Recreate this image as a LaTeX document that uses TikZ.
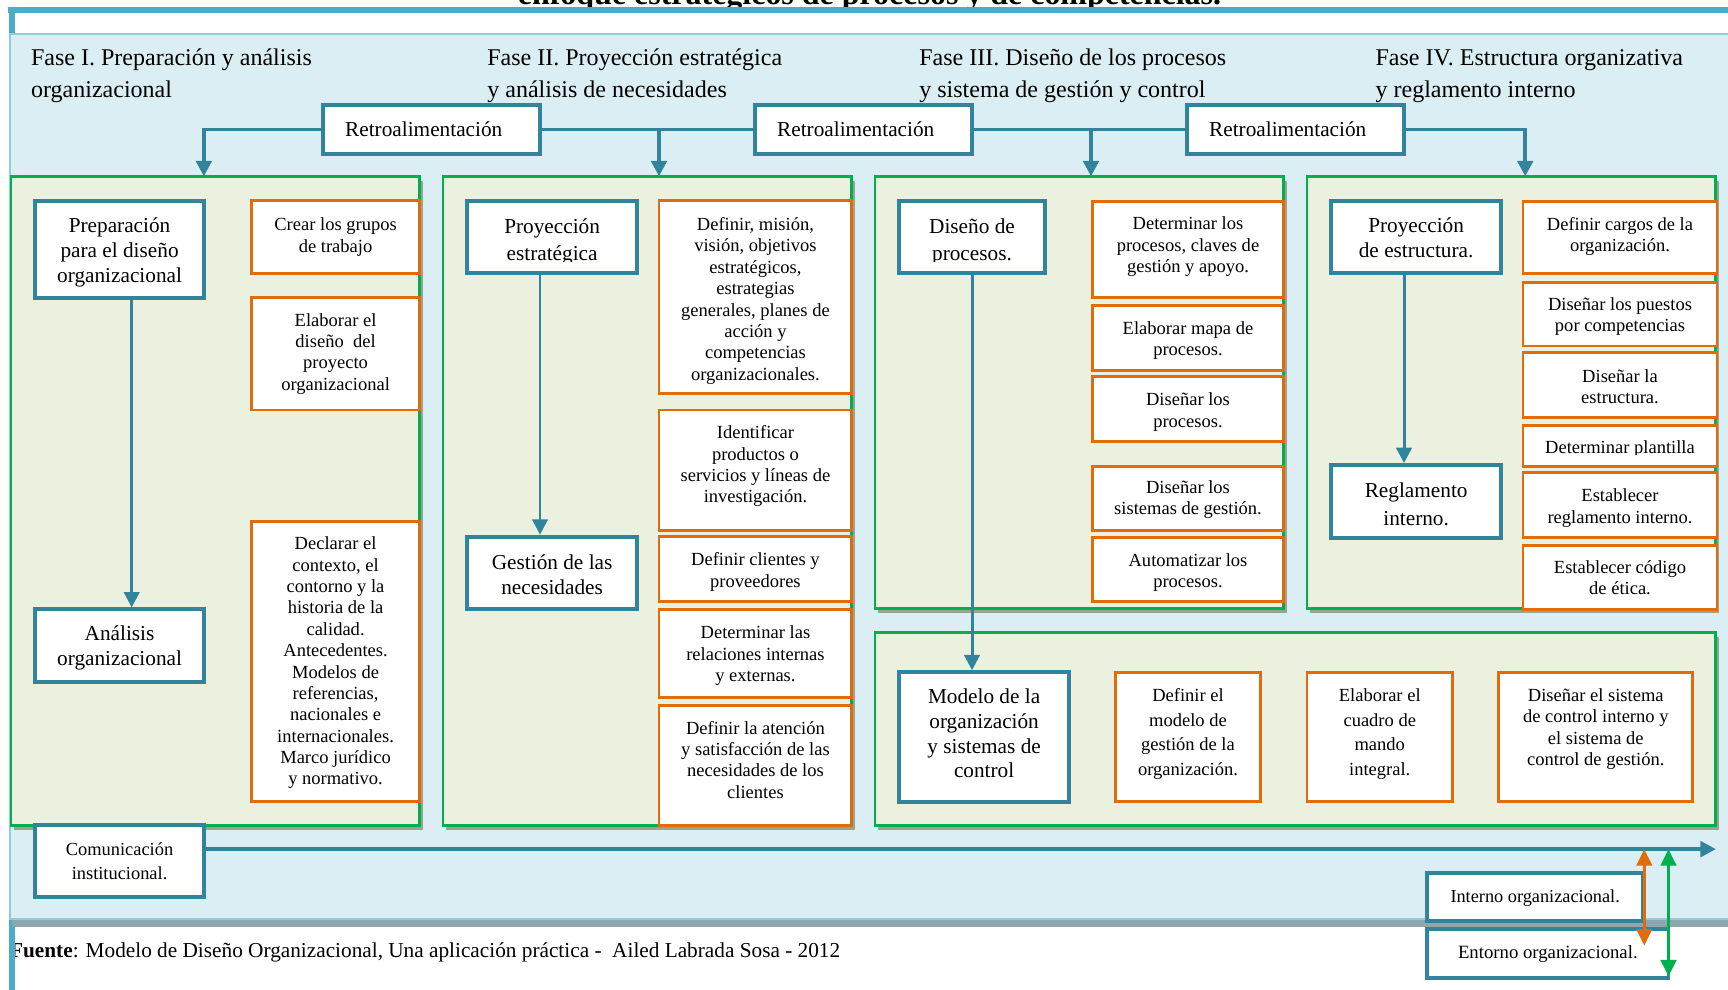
\documentclass[tikz,border=0pt]{standalone}
\usepackage{fontspec}
\setmainfont{Liberation Serif}
\usetikzlibrary{arrows.meta}

\definecolor{cTeal}{HTML}{31849B}
\definecolor{cRule}{HTML}{4BACC6}
\definecolor{cPanel}{HTML}{DAEEF3}
\definecolor{cPanelEdge}{HTML}{92CDDC}
\definecolor{cPanelShade}{HTML}{8EA6AE}
\definecolor{cGreen}{HTML}{00B050}
\definecolor{cGreenFill}{HTML}{EBF1DE}
\definecolor{cShade}{HTML}{98A48E}
\definecolor{cOrange}{HTML}{E36C0A}

\newcommand\fsz[2]{\fontsize{#1}{#2}\selectfont}

\tikzset{
  phasehead/.style={font=\fsz{21.8}{29}, anchor=base west, inner sep=0pt},
  retrobox/.style={draw=cTeal, line width=3.6pt, fill=white, font=\fsz{19.3}{22}, inner sep=0pt},
  keybox/.style={draw=cTeal, line width=3.6pt, fill=white, align=center, inner sep=0pt, font=\fsz{19.3}{22.5}},
  notebox/.style={draw=cTeal, line width=3.6pt, fill=white, align=center, inner sep=0pt, font=\fsz{16.7}{22}},
  taskbox/.style={draw=cOrange, line width=2.6pt, fill=white, align=center, inner sep=0pt, font=\fsz{16.8}{19.4}},
  phasebox/.style={draw=cGreen, line width=2.6pt, fill=cGreenFill, inner sep=0pt},
  boxtext/.style={draw=none, fill=none, minimum width=0pt, minimum height=0pt},
  link/.style={draw=cTeal, line width=2.7pt},
  feed/.style={draw=cTeal, line width=3.3pt},
  tipend/.style={-{Triangle[width=14pt,length=14pt]}},
  duo/.style={line width=3pt, {Triangle[width=14pt,length=15pt]}-{Triangle[width=14pt,length=15pt]}},
  plaintext/.style={inner sep=0pt, anchor=base},
}

% empty box given by its border corners (x1,y1)-(x2,y2)
\newcommand\shapebox[6]{\node[#2, minimum width={#5-#3}, minimum height={#6-#4}] (#1) at ({(#3+#5)/2},{(#4+#6)/2}) {};}
% box with its text, optionally moved down by [dy]
\newcommand\boxnode[8][0]{%
  \shapebox{#2}{#3}{#4}{#5}{#6}{#7}
  \node[#3, boxtext] (#2-t) at ({(#4+#6)/2},{(#5+#7)/2+#1}) {#8};}
% phase panel with its drop shadow
\newcommand\phasenode[5]{%
  \fill[cShade] ({#2+3},{#3+4}) rectangle ({#4+3},{#5+4});
  \shapebox{#1}{phasebox}{#2}{#3}{#4}{#5}}

\begin{document}
\begin{tikzpicture}[x=1pt,y=-1pt]
\useasboundingbox (0,0) rectangle (1568,898);
\clip (0,0) rectangle (1568,898);

% heading running off the top of the page
\node[font=\bfseries\fsz{29}{30}, plaintext] (title) at (789,4) {enfoque estratégicos de procesos y de competencias.};

% source line
\node[font=\fsz{19.3}{22}, inner sep=0pt, anchor=base west] (source) at (9,869)
  {\textbf{Fuente}: Modelo de Diseño Organizacional, Una aplicación práctica -\ \ Ailed Labrada Sosa - 2012};

% frame rules
\draw[cRule, line width=5.4pt] (7,9) -- (1570,9);
\draw[cRule, line width=5.5pt] (10.5,6.3) -- (10.5,900);

% background panel
\fill[cPanelShade] (11,835) rectangle (1570,841);
\fill[cPanel] (9,31) rectangle (1570,835);
\draw[cPanelEdge, line width=2.4pt] (1570,31) -- (9,31) -- (9,834) -- (1570,834);

% phase headings
\node[phasehead] (h1a) at (28,59.5) {Fase I. Preparación y análisis};
\node[phasehead] (h1b) at (28,88.5) {organizacional};
\node[phasehead] (h2a) at (442,59.5) {Fase II. Proyección estratégica};
\node[phasehead] (h2b) at (442,88.5) {y análisis de necesidades};
\node[phasehead] (h3a) at (834,59.5) {Fase III. Diseño de los procesos};
\node[phasehead] (h3b) at (834,88.5) {y sistema de gestión y control};
\node[phasehead] (h4a) at (1248,59.5) {Fase IV. Estructura organizativa};
\node[phasehead] (h4b) at (1248,88.5) {y reglamento interno};

% feedback boxes
\boxnode{r1}{retrobox}{293}{95}{490}{140}{Retroalimentación\hspace*{14pt}}
\boxnode{r2}{retrobox}{685}{95}{882}{140}{Retroalimentación\hspace*{14pt}}
\boxnode{r3}{retrobox}{1077}{95}{1274}{140}{Retroalimentación\hspace*{14pt}}

% phase panels
\phasenode{p1}{10}{160}{381}{749}
\phasenode{p2}{402}{160}{773}{749}
\phasenode{p3}{794}{160}{1165}{552}
\phasenode{p4}{1186}{160}{1557}{552}
\phasenode{p5}{794}{574}{1557}{749}

% Phase I
\boxnode[3]{k1}{keybox}{32}{182}{185}{270}{Preparación\\para el diseño\\organizacional}
\boxnode[2]{k2}{keybox}{32}{553}{185}{619}{Análisis\\organizacional}
\boxnode{t11}{taskbox}{228}{182}{381}{248}{Crear los grupos\\de trabajo}
\boxnode{t12}{taskbox}{228}{270}{381}{372}{Elaborar el\\diseño\ \ del\\proyecto\\organizacional}
\boxnode[1.5]{t13}{taskbox}{228}{473}{381}{727}{Declarar el\\contexto, el\\contorno y la\\historia de la\\calidad.\\Antecedentes.\\Modelos de\\referencias,\\nacionales e\\internacionales.\\Marco jurídico\\y normativo.}

% Phase II
\shapebox{k3}{keybox}{424}{182}{578}{248}
\begin{scope}
  \clip (424,182) rectangle (578,237.5);
  \node[plaintext, font=\fsz{19.3}{22.5}] (k3a) at (501,211.5) {Proyección};
  \node[plaintext, font=\fsz{19.3}{22.5}] (k3b) at (501,236.5) {estratégica};
\end{scope}
\boxnode[1.5]{k4}{keybox}{424}{487}{578}{553}{Gestión de las\\necesidades}
\boxnode[3.5]{t21}{taskbox}{598}{182}{773}{357}{Definir, misión,\\visión, objetivos\\estratégicos,\\estrategias\\generales, planes de\\acción y\\competencias\\organizacionales.}
\boxnode[-3.5]{t22}{taskbox}{598}{372}{773}{481}{Identificar\\productos o\\servicios y líneas de\\investigación.}
\boxnode[2.5]{t23}{taskbox}{598}{487}{773}{546}{Definir clientes y\\proveedores}
\boxnode[2]{t24}{taskbox}{598}{553}{773}{633}{Determinar las\\relaciones internas\\y externas.}
\boxnode[-5]{t25}{taskbox}{598}{640}{773}{749}{Definir la atención\\y satisfacción de las\\necesidades de los\\clientes}

% Phase III
\shapebox{k5}{keybox}{816}{182}{948}{248}
\begin{scope}
  \clip (816,182) rectangle (948,237.5);
  \node[plaintext, font=\fsz{19.3}{22.5}] (k5a) at (882,211.5) {Diseño de};
  \node[plaintext, font=\fsz{19.3}{22.5}] (k5b) at (882,236.5) {procesos.};
\end{scope}
\boxnode[-2.5]{t31}{taskbox}{991}{183}{1165}{270}{Determinar los\\procesos, claves de\\gestión y apoyo.}
\boxnode[2.5]{t32}{taskbox}{991}{277}{1165}{336}{Elaborar mapa de\\procesos.}
\boxnode[2.5]{t33}{taskbox}{991}{342}{1165}{401}{Diseñar los\\procesos.}
\boxnode[1.5]{t34}{taskbox}{991}{423}{1165}{481}{Diseñar los\\sistemas de gestión.}
\boxnode[2.5]{t35}{taskbox}{991}{488}{1165}{546}{Automatizar los\\procesos.}

\boxnode[-3.5]{k6}{keybox}{816}{610}{970}{728}{Modelo de la\\organización\\y sistemas de\\control}
\boxnode[-2.5]{t51}{taskbox, font=\fsz{16.8}{22.3}}{1012}{610}{1144}{727}{Definir el\\modelo de\\gestión de la\\organización.}
\boxnode[-2.5]{t52}{taskbox, font=\fsz{16.8}{22.3}}{1186}{610}{1318}{727}{Elaborar el\\cuadro de\\mando\\integral.}
\boxnode[-7]{t53}{taskbox}{1360}{610}{1536}{727}{Diseñar el sistema\\de control interno y\\el sistema de\\control de gestión.}

% Phase IV
\boxnode[1]{k7}{keybox}{1208}{182}{1362}{248}{Proyección\\de estructura.}
\boxnode[2.5]{k8}{keybox, font=\fsz{19.3}{25}}{1208}{422}{1362}{488}{Reglamento\\interno.}
\boxnode[-1]{t41}{taskbox}{1382}{183}{1558}{248}{Definir cargos de la\\organización.}
\boxnode[2.5]{t42}{taskbox}{1382}{256}{1558}{314}{Diseñar los puestos\\por competencias}
\boxnode[1.5]{t43}{taskbox}{1382}{320}{1558}{379}{Diseñar la\\estructura.}
\shapebox{t44}{taskbox}{1382}{386}{1558}{423}
\begin{scope}
  \clip (1382,386) rectangle (1558,412.5);
  \node[plaintext, font=\fsz{16.8}{19.4}] (t44a) at (1470,411.5) {Determinar plantilla};
\end{scope}
\boxnode[2.5]{t45}{taskbox}{1382}{429}{1558}{488}{Establecer\\reglamento interno.}
\boxnode{t46}{taskbox}{1382}{495}{1558}{553}{Establecer código\\de ética.}

% feedback connectors
\coordinate (a1) at (185,160);
\coordinate (a2) at (598,160);
\coordinate (a3) at (990,160);
\coordinate (a4) at (1384,160);
\draw[feed, tipend] (r1.west) -| (a1);
\draw[feed] (r1.east) -- (r2.west);
\draw[feed, tipend] (r1.east -| a2) -- (a2);
\draw[feed] (r2.east) -- (r3.west);
\draw[feed, tipend] (r2.east -| a3) -- (a3);
\draw[feed, tipend] (r3.east) -| (a4);

% flow inside the phases
\draw[link, tipend] ([xshift=11pt]k1.south) -- ([xshift=11pt]k2.north);
\draw[link, tipend] ([xshift=-11pt]k3.south) -- ([xshift=-11pt]k4.north);
\draw[link, tipend] (k5.south) -- ([xshift=-11pt]k6.north);
\draw[link, tipend] ([xshift=-11pt]k7.south) -- ([xshift=-11pt]k8.north);

% communication strip
\boxnode{cm}{notebox}{32}{749}{185}{814}{Comunicación\\institucional.}
\boxnode[1]{intern}{notebox, font=\fsz{16.6}{20}}{1295}{792}{1491}{836}{Interno organizacional.}
\boxnode[1]{extern}{notebox, font=\fsz{17}{20}}{1295}{843}{1514}{887}{Entorno organizacional.}
\coordinate (cend) at (1557,770.5);
\draw[feed, tipend] ([yshift=11pt]cm.east) -- (cend);
\coordinate (o1) at (1492,770.5);
\coordinate (o2) at (1492,858);
\coordinate (g1) at (1514,770.5);
\coordinate (g2) at (1514,886);
\draw[duo, cOrange] (o1) -- (o2);
\draw[duo, cGreen] (g1) -- (g2);
\end{tikzpicture}
\end{document}
